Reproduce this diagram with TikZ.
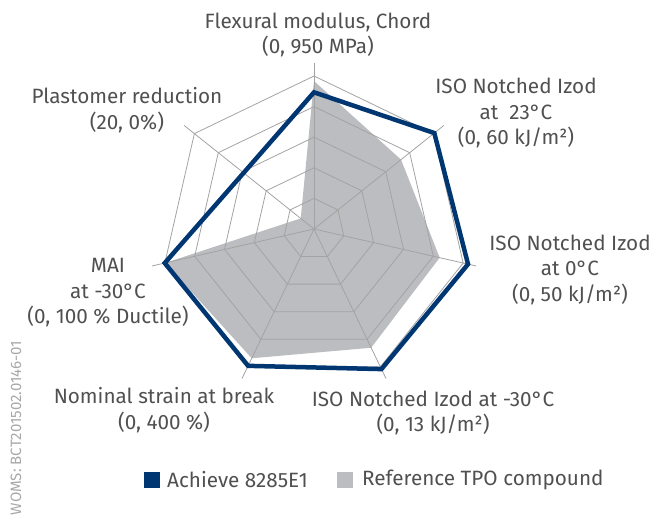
\documentclass[tikz,border=0pt]{standalone}
\usepackage{fontspec}
\IfFontExistsTF{FiraSans-Light.otf}{\setmainfont{FiraSans-Light.otf}}{\setmainfont{Fira Sans}}
\definecolor{navy}{HTML}{003671}
\definecolor{fillgray}{HTML}{BCBDC0}
\definecolor{gridgray}{HTML}{A3A3A3}
\definecolor{txt}{HTML}{505050}
\definecolor{codegray}{HTML}{A8A8A8}
\tikzset{
  gridline/.style={draw=gridgray, line width=0.8pt},
  lbl/.style={text=txt, align=center, inner sep=0pt, font=\fontsize{20.7}{25.5}\selectfont},
  legtxt/.style={text=txt, anchor=west, inner sep=0pt, font=\fontsize{20.7}{25.5}\selectfont},
  legbox/.style={minimum size=15.5pt, inner sep=0pt, anchor=west}
}
\begin{document}
\begin{tikzpicture}[x=1pt,y=1pt]
\useasboundingbox (-314,-289) rectangle (339,229);
% reference compound area
\fill[fillgray] (90:148) -- (38.571:111.3) -- (-12.857:128.9) -- (-64.286:131.8)
  -- (-115.714:143.5) -- (-167.143:152.5) -- (141.429:17) -- cycle;
% grid rings
\foreach \r in {1,...,5}
  \draw[gridline] (90:{\r*30.6}) \foreach \i in {1,...,6} { -- ({90-\i*360/7}:{\r*30.6}) } -- cycle;
% axes
\foreach \i in {0,...,6}
  \draw[gridline] (0,0) -- ({90-\i*360/7}:166);
% Achieve 8285E1
\draw[navy, line width=4.5pt, line join=miter] (90:136.7) -- (38.571:153.9) -- (-12.857:158)
  -- (-64.286:155.5) -- (-115.714:151.9) -- (-167.143:153.1) -- (141.429:90) -- cycle;
% labels
\node[lbl] (flex) at (4,194) {Flexural modulus, Chord\\(0, 950 MPa)};
\node[lbl] (izod23) at (202,116) {ISO Notched Izod\\at\ \ 23°C\\(0, 60 kJ/m²)};
\node[lbl] (izod0) at (256,-40.5) {ISO Notched Izod\\at 0°C\\(0, 50 kJ/m²)};
\node[lbl] (izodm30) at (119,-184) {ISO Notched Izod at -30°C\\(0, 13 kJ/m²)};
\node[lbl] (strain) at (-150,-181) {Nominal strain at break\\(0, 400 \%)};
\node[lbl] (mai) at (-206,-64) {MAI\\at -30°C\\(0, 100 \% Ductile)};
\node[lbl] (plast) at (-187,119) {Plastomer reduction\\(20, 0\%)};
% legend
\node[legbox, fill=navy] (legA) at (-170,-251) {};
\node[legtxt] (legAt) at (-147,-251) {Achieve 8285E1};
\node[legbox, fill=fillgray] (legB) at (23,-251) {};
\node[legtxt] (legBt) at (48,-251) {Reference TPO compound};
% side code
\node[text=codegray, rotate=90, inner sep=0pt, font=\fontsize{15}{17}\selectfont] (code) at (-298,-199) {WOMS: BCT201502.0146-01};
\end{tikzpicture}
\end{document}
